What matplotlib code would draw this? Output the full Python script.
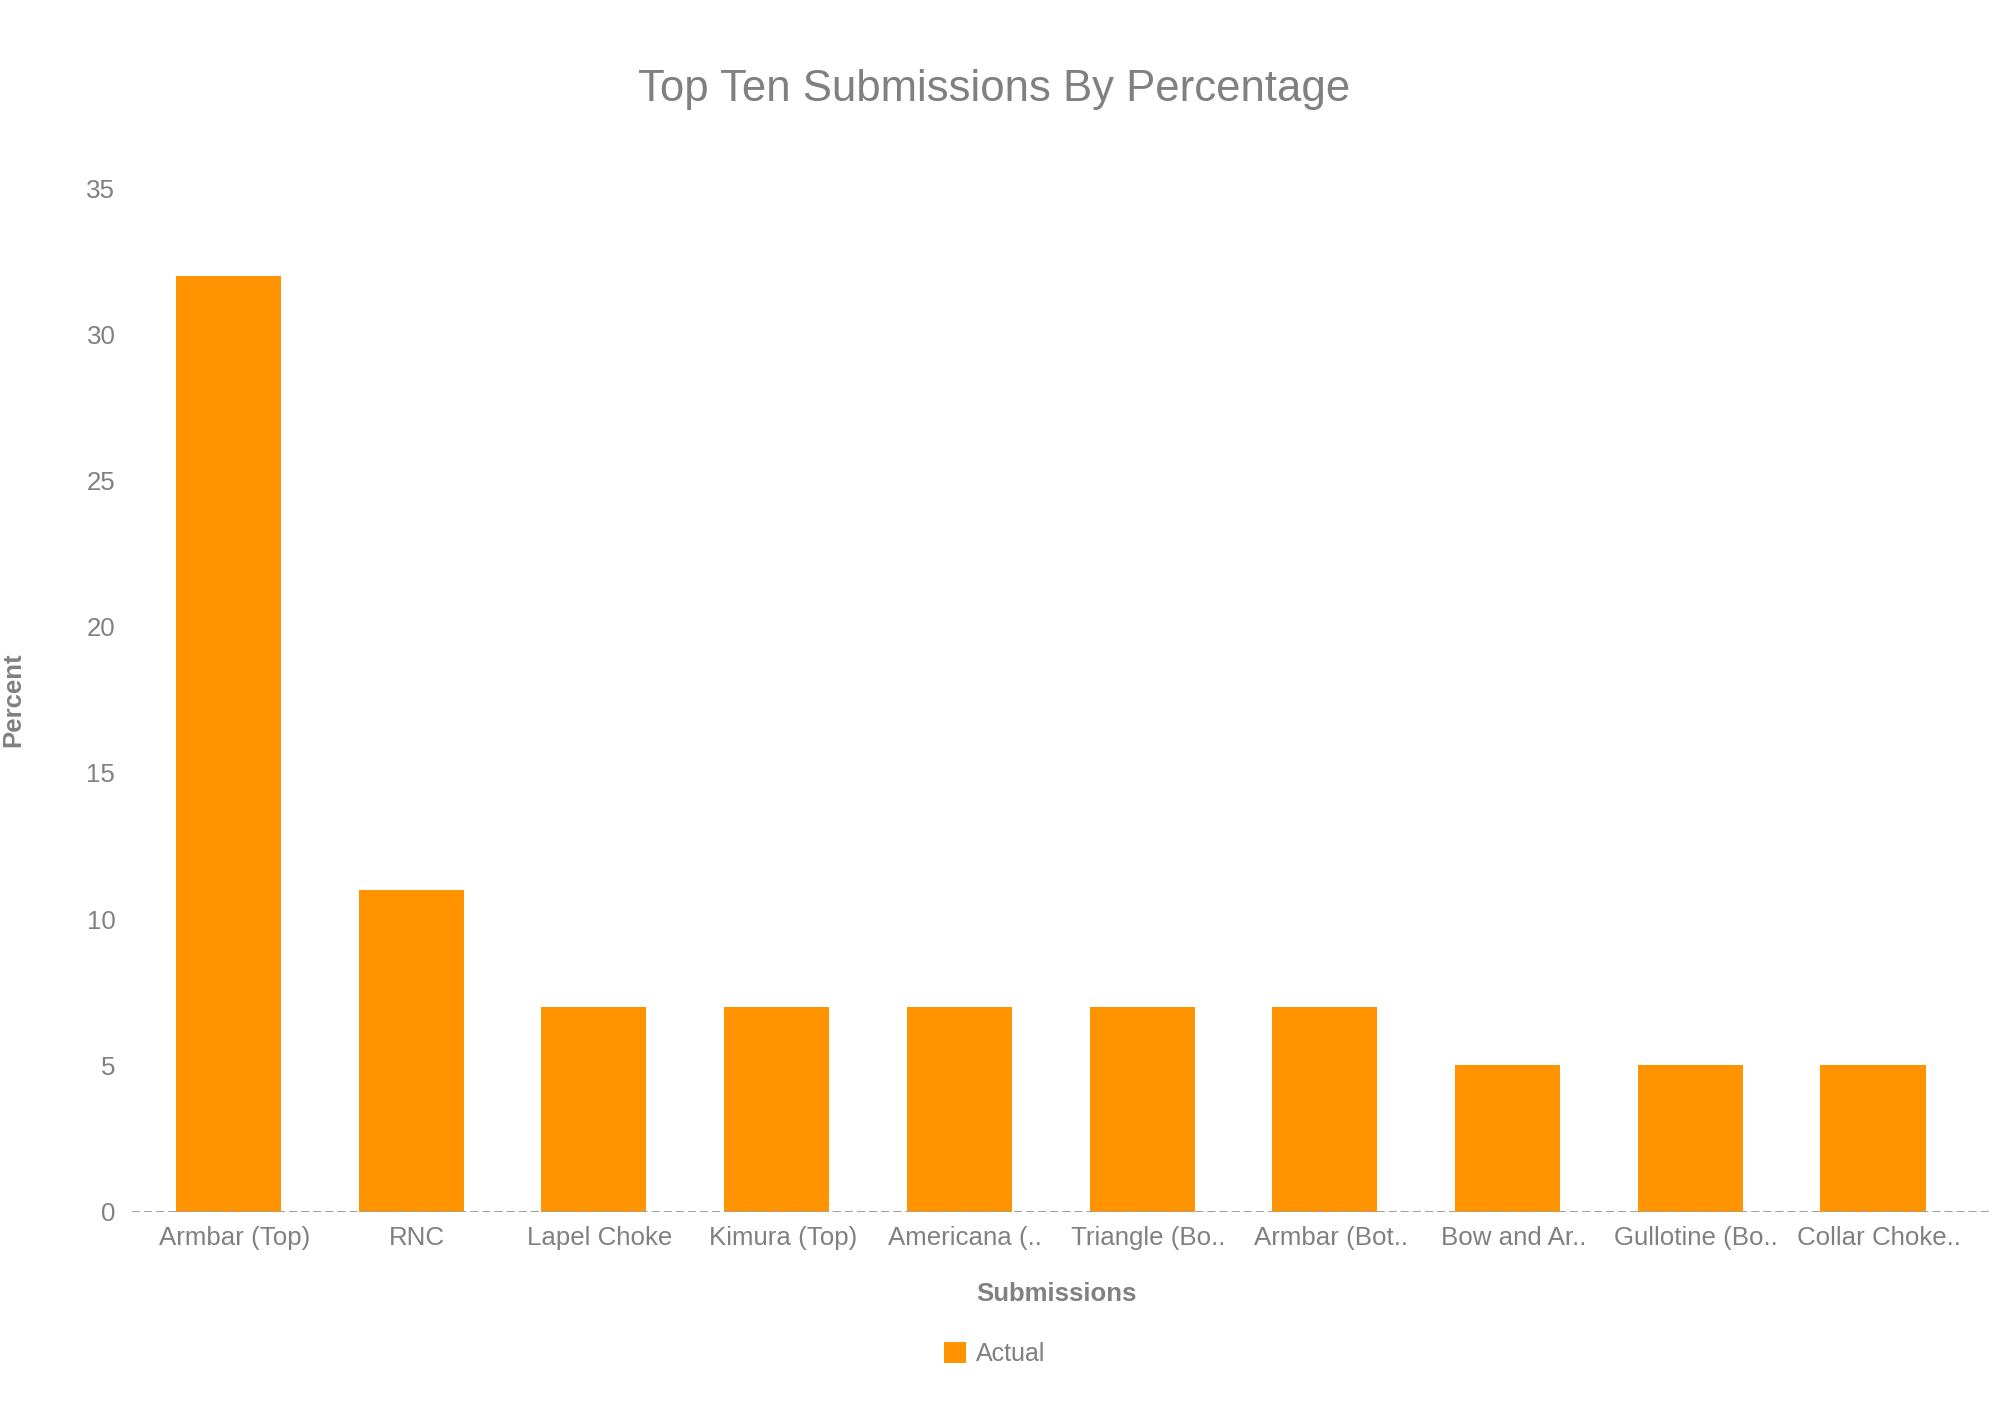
import matplotlib
matplotlib.use("Agg")
import matplotlib.pyplot as plt
from matplotlib.patches import Patch
from matplotlib.transforms import ScaledTranslation

plt.rcParams['font.family'] = ['Liberation Sans', 'DejaVu Sans']

submissions = ["Armbar (Top)", "RNC", "Lapel Choke", "Kimura (Top)", "Americana (..",
               "Triangle (Bo..", "Armbar (Bot..", "Bow and Ar..", "Gullotine (Bo..", "Collar Choke.."]
percent = [32, 11, 7, 7, 7, 7, 7, 5, 5, 5]
series_name = "Actual"

grey = '#808080'
orange = '#ff9400'

W, H = 1993, 1411
fig = plt.figure(figsize=(W / 100, H / 100), dpi=100)
ax = fig.add_axes([132 / W, 1 - 1211.7 / H, (1989 - 132) / W, (1211.7 - 188) / H])

x = list(range(len(submissions)))
ax.bar(x, percent, width=0.575, color=orange, zorder=2)
ax.axhline(0, color='#a0a0a0', lw=1.45, ls=(0, (4, 2)), zorder=3)

ax.set_xlim(-0.528, 9.635)
ax.set_ylim(0, 35)
ax.set_yticks(range(0, 36, 5))
ax.set_xticks(x)
ax.set_xticklabels(submissions)
ax.tick_params(axis='both', length=0, labelsize=18.6, labelcolor=grey)
ax.tick_params(axis='x', pad=10.5)
ax.tick_params(axis='y', pad=12)
# labels sit a little right of the bar centres in the original
shift = ScaledTranslation(6 / 100, 0, fig.dpi_scale_trans)
for lbl in ax.get_xticklabels():
    lbl.set_transform(lbl.get_transform() + shift)
for s in ax.spines.values():
    s.set_visible(False)

ax.set_ylabel("Percent", fontsize=18.5, fontweight='bold', color=grey)
ax.yaxis.label.set_va('center')
ax.yaxis.set_label_coords(-0.064, 0.5)
ax.set_xlabel("Submissions", fontsize=18.5, fontweight='bold', color=grey)
ax.xaxis.label.set_va('center')
ax.xaxis.set_label_coords(0.498, -0.080)

fig.text(0.499, 1 - 89 / H, "Top Ten Submissions By Percentage", fontsize=31.5,
         color=grey, ha='center', va='center')

handle = Patch(facecolor=orange, edgecolor='none')
fig.legend([handle], [series_name], loc='center', bbox_to_anchor=(0.499, 1 - 1354 / H),
           frameon=False, fontsize=18, labelcolor=grey, handlelength=0.9,
           handleheight=0.9, handletextpad=0.4)

fig.savefig("out.png", dpi=100, facecolor='white')
